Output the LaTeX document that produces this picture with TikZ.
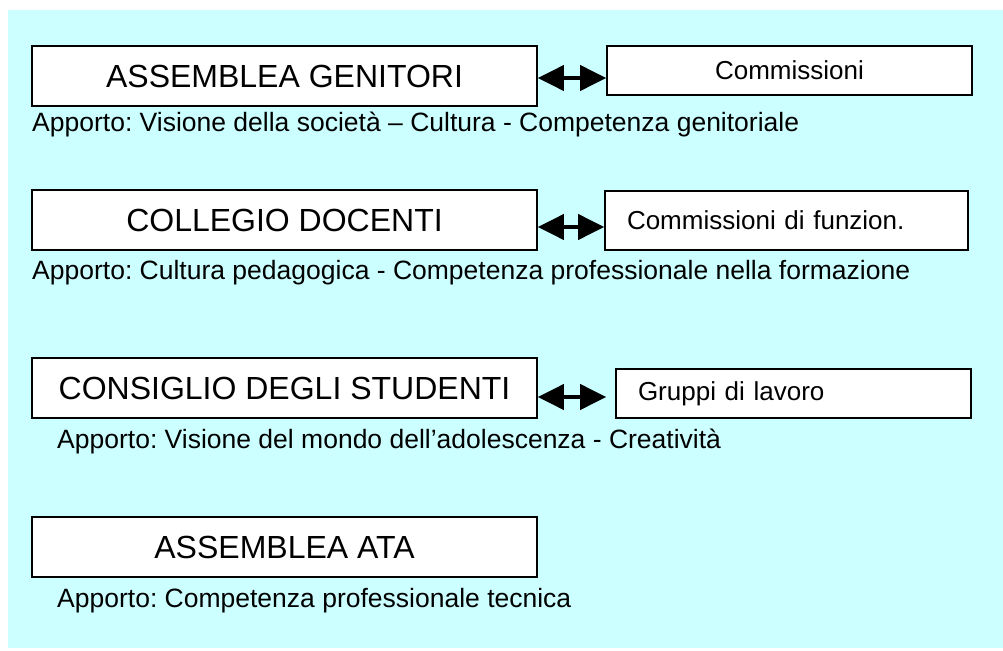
\documentclass[tikz,border=0pt]{standalone}
\usepackage{fontspec}
\setmainfont{Liberation Sans}
\usetikzlibrary{arrows.meta}
\definecolor{sfondo}{HTML}{CCFFFF}
\frenchspacing
\tikzset{
    organo/.style = {draw, line width = 1.6pt, fill = white,
        minimum width = 505pt, minimum height = 60pt, inner sep = 0pt,
        font = \fontsize{32}{36}\selectfont},
    gruppo/.style = {draw, line width = 1.6pt, fill = white,
        inner sep = 0pt, font = \fontsize{26}{30}\selectfont},
    apporto/.style = {anchor = west, inner sep = 0pt,
        font = \fontsize{26.5}{30}\selectfont},
    scambio/.style = {line width = 4pt,
        {Triangle[length = 26pt, width = 25pt]}-{Triangle[length = 26pt, width = 25pt]}}
}
\begin{document}
\begin{tikzpicture}[x = 1pt, y = -1pt]
    \useasboundingbox (0,0) rectangle (1003,650);
    \fill[sfondo] (8,10) rectangle (1003,648);
    % genitori
    \draw (284.5,76) node(G) [organo] {ASSEMBLEA GENITORI};
    \draw (789.5,70.5) node(CG) [gruppo,
        minimum width = 365pt, minimum height = 49pt] {Commissioni};
    \draw [scambio] ([yshift=-2pt]G.east) -- ([yshift=-2pt]G.east -| CG.west);
    \draw (32,124) node(AG) [apporto]
    {Apporto: Visione della società – Cultura - Competenza genitoriale};
    % docenti
    \draw (284.5,220) node(D) [organo] {COLLEGIO DOCENTI};
    \draw (786.5,220.5) node(CD) [gruppo,
        minimum width = 363pt, minimum height = 59pt,
        text width = 319pt, align = left] {Commissioni di funzion.};
    \draw [scambio] ([yshift=-7pt]D.east) -- ([yshift=-7pt]D.east -| CD.west);
    \draw (32,273) node(AD) [apporto]
    {Apporto: Cultura pedagogica - Competenza professionale nella formazione};
    % studenti
    \draw (284.5,388) node(S) [organo] {CONSIGLIO DEGLI STUDENTI};
    \draw (793.5,393.5) node(LS) [gruppo,
        minimum width = 355pt, minimum height = 49pt,
        text width = 311pt, align = left] {Gruppi di lavoro};
    \draw [scambio] ([yshift=-9pt]S.east) -- ([yshift=-9pt,xshift=-9pt]S.east -| LS.west);
    \draw (57,441) node(AS) [apporto]
    {Apporto: Visione del mondo dell’adolescenza - Creatività};
    % ata
    \draw (284.5,547) node(T) [organo] {ASSEMBLEA ATA};
    \draw (57,601) node(AT) [apporto]
    {Apporto: Competenza professionale tecnica};
\end{tikzpicture}
\end{document}
